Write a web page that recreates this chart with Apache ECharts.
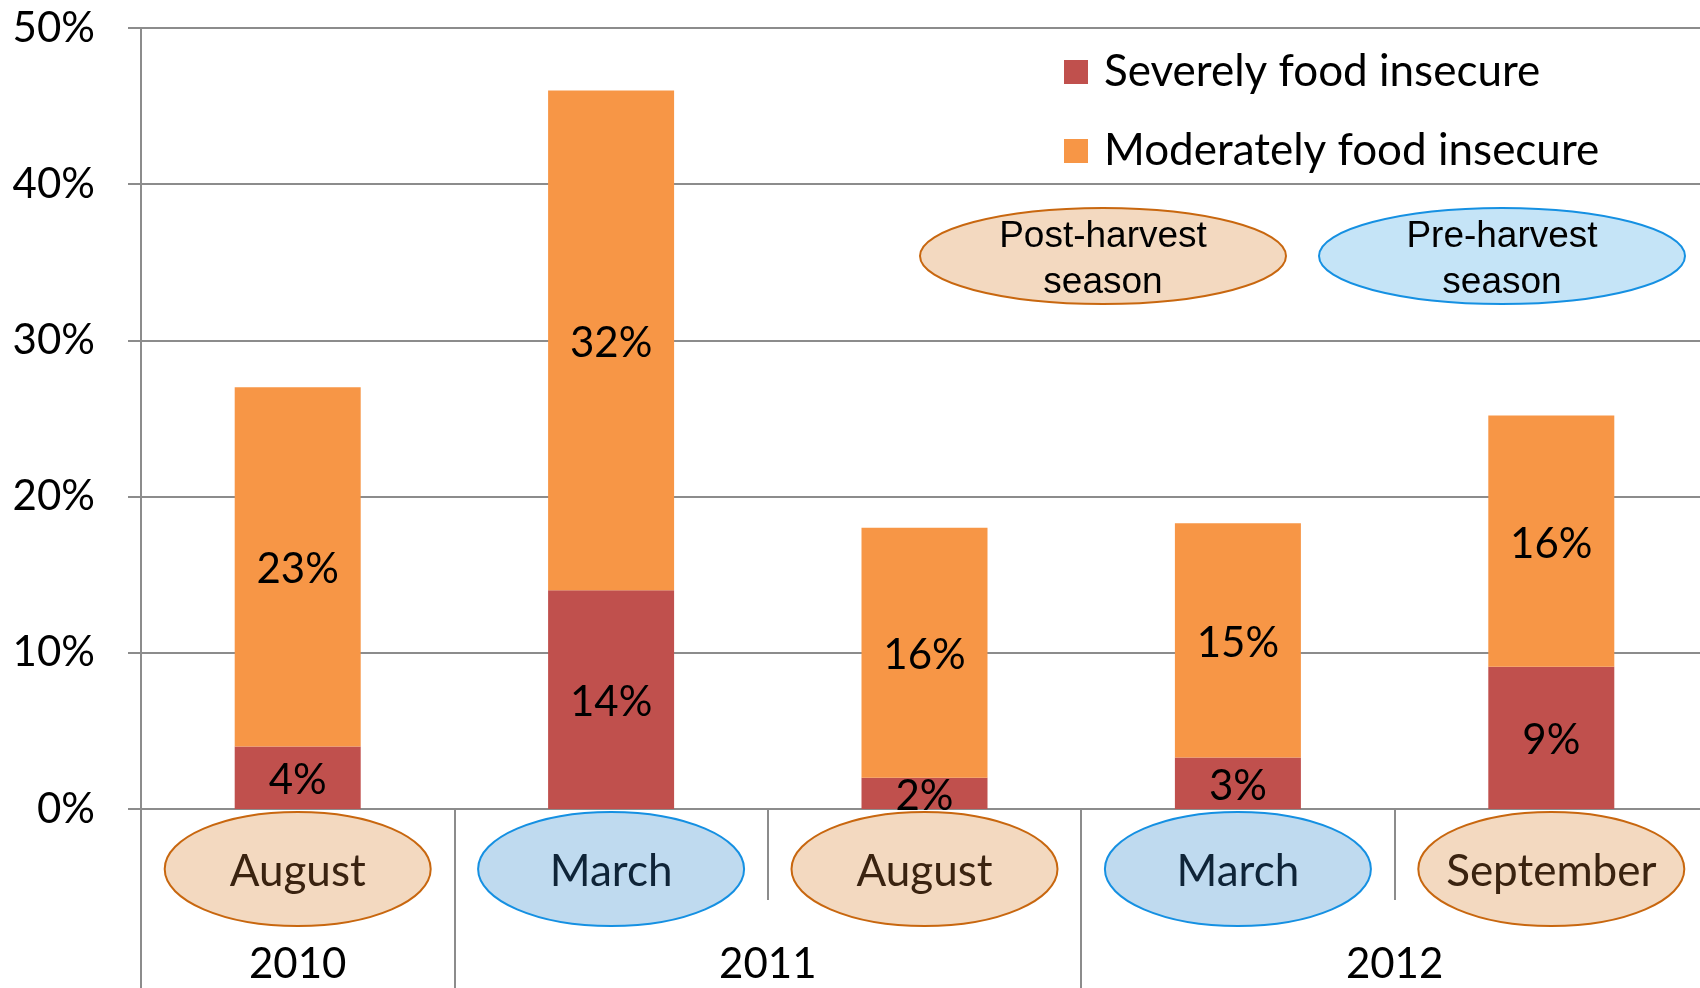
<!DOCTYPE html>
<html>
<head>
<meta charset="utf-8">
<script src="https://cdn.jsdelivr.net/npm/echarts@6/dist/echarts.min.js"></script>
<style>
html,body{margin:0;padding:0;background:#fff;}
#chart{width:1700px;height:988px;}
</style>
</head>
<body>
<div id="chart"></div>
<script>
// ---- data ----
const months = ['August', 'March', 'August', 'March', 'September'];
const years = ['2010', '2011', '2011', '2012', '2012'];
const seasons = ['post', 'pre', 'post', 'pre', 'post'];
const severe = [4, 14, 2, 3.3, 9.1];
const moderate = [23, 32, 16, 15, 16.1];
const yearLabels = ['2010', '2011', '2012'];
const yearSpans = [[0, 1], [1, 3], [3, 5]];
const yTicks = [0, 10, 20, 30, 40, 50];
const seriesNames = ['Severely food insecure', 'Moderately food insecure'];
const seasonNames = { post: 'Post-harvest\nseason', pre: 'Pre-harvest\nseason' };

// ---- styles ----
const FONT = 'Lato, "Liberation Sans", sans-serif';
const GRAY = '#8c8c8c';
const seasonStyle = {
  post: { fill: '#f3d9c0', stroke: '#c8670f', text: '#3a2310' },
  pre: { fill: '#bfdaef', stroke: '#1590e2', text: '#0f2438' }
};
const seasonLegendFill = { post: '#f3d9c0', pre: '#c5e4f7' };

const categories = months.map((m, i) => m + ' ' + years[i]);
const yearBoundaries = yearSpans.map(s => s[0]);
const yearCenters = yearSpans.map(s => (s[0] + s[1]) / 2);

const chart = echarts.init(document.getElementById('chart'), null, { renderer: 'canvas' });

const barLabel = {
  show: true,
  position: 'inside',
  offset: [0, 3],
  formatter: p => Math.round(p.value) + '%',
  fontFamily: FONT,
  fontSize: 42,
  color: '#000'
};

const option = {
  backgroundColor: '#ffffff',
  animation: false,
  grid: { left: 141, width: 1567, top: 28, bottom: 179, containLabel: false, outerBoundsMode: 'none' },
  legend: {
    data: seriesNames,
    orient: 'vertical',
    left: 1064,
    top: 50,
    padding: 0,
    itemWidth: 24,
    itemHeight: 24,
    itemGap: 35,
    icon: 'rect',
    selectedMode: false,
    textStyle: { fontFamily: FONT, fontSize: 44, color: '#000', padding: [0, 0, 0, 11] }
  },
  xAxis: [
    {
      type: 'category',
      data: categories,
      position: 'bottom',
      boundaryGap: true,
      axisLine: { show: true, lineStyle: { color: GRAY, width: 2 } },
      axisTick: { show: true, length: 91, lineStyle: { color: GRAY, width: 2 } },
      axisLabel: { show: false },
      splitLine: { show: false }
    },
    {
      type: 'value',
      min: 0,
      max: months.length,
      position: 'bottom',
      axisLine: { show: false },
      splitLine: { show: false },
      axisTick: { show: true, customValues: yearBoundaries, length: 179, lineStyle: { color: GRAY, width: 2 } },
      axisLabel: {
        show: true,
        customValues: yearCenters,
        formatter: v => yearLabels[yearCenters.indexOf(v)],
        margin: 155,
        verticalAlign: 'middle',
        fontFamily: FONT,
        fontSize: 42,
        color: '#000'
      }
    }
  ],
  yAxis: {
    type: 'value',
    min: yTicks[0],
    max: yTicks[yTicks.length - 1],
    interval: 10,
    axisLine: { show: true, lineStyle: { color: GRAY, width: 2 } },
    axisTick: { show: true, length: 13, lineStyle: { color: GRAY, width: 2 } },
    splitLine: { show: true, lineStyle: { color: GRAY, width: 2 } },
    axisLabel: {
      formatter: '{value}%',
      margin: 46,
      fontFamily: FONT,
      fontSize: 42,
      color: '#000'
    }
  },
  series: [
    {
      name: seriesNames[0],
      type: 'bar',
      stack: 'total',
      barWidth: 126,
      data: severe,
      itemStyle: { color: '#c0504d' },
      label: barLabel
    },
    {
      name: seriesNames[1],
      type: 'bar',
      stack: 'total',
      barWidth: 126,
      data: moderate,
      itemStyle: { color: '#f79646' },
      label: barLabel
    },
    {
      name: 'month labels',
      type: 'custom',
      clip: false,
      silent: true,
      z: 5,
      data: months.map((m, i) => [i, 0]),
      encode: { x: 0, y: 1 },
      renderItem: function (params, api) {
        const idx = api.value(0);
        const p = api.coord([idx, 0]);
        const st = seasonStyle[seasons[idx]];
        const cy = p[1] + 60;
        return {
          type: 'group',
          children: [
            {
              type: 'ellipse',
              shape: { cx: p[0], cy: cy, rx: 133, ry: 57 },
              style: { fill: st.fill, stroke: st.stroke, lineWidth: 2 }
            },
            {
              type: 'text',
              x: p[0],
              y: cy + 3,
              style: {
                text: months[idx],
                fontFamily: FONT,
                fontSize: 44,
                fill: st.text,
                align: 'center',
                verticalAlign: 'middle'
              }
            }
          ]
        };
      }
    }
  ],
  graphic: [
    {
      type: 'group',
      children: ['post', 'pre'].map((k, i) => ({
        type: 'group',
        x: i === 0 ? 1103 : 1502,
        y: 256,
        children: [
          {
            type: 'ellipse',
            shape: { cx: 0, cy: 0, rx: 183, ry: 48 },
            style: { fill: seasonLegendFill[k], stroke: seasonStyle[k].stroke, lineWidth: 2 }
          },
          {
            type: 'text',
            x: 0,
            y: 4,
            style: {
              text: seasonNames[k],
              fontFamily: '"Liberation Sans", Arial, sans-serif',
              fontSize: 37,
              lineHeight: 46,
              fill: '#000',
              align: 'center',
              verticalAlign: 'middle'
            }
          }
        ]
      }))
    }
  ]
};

chart.setOption(option);
</script>
</body>
</html>
